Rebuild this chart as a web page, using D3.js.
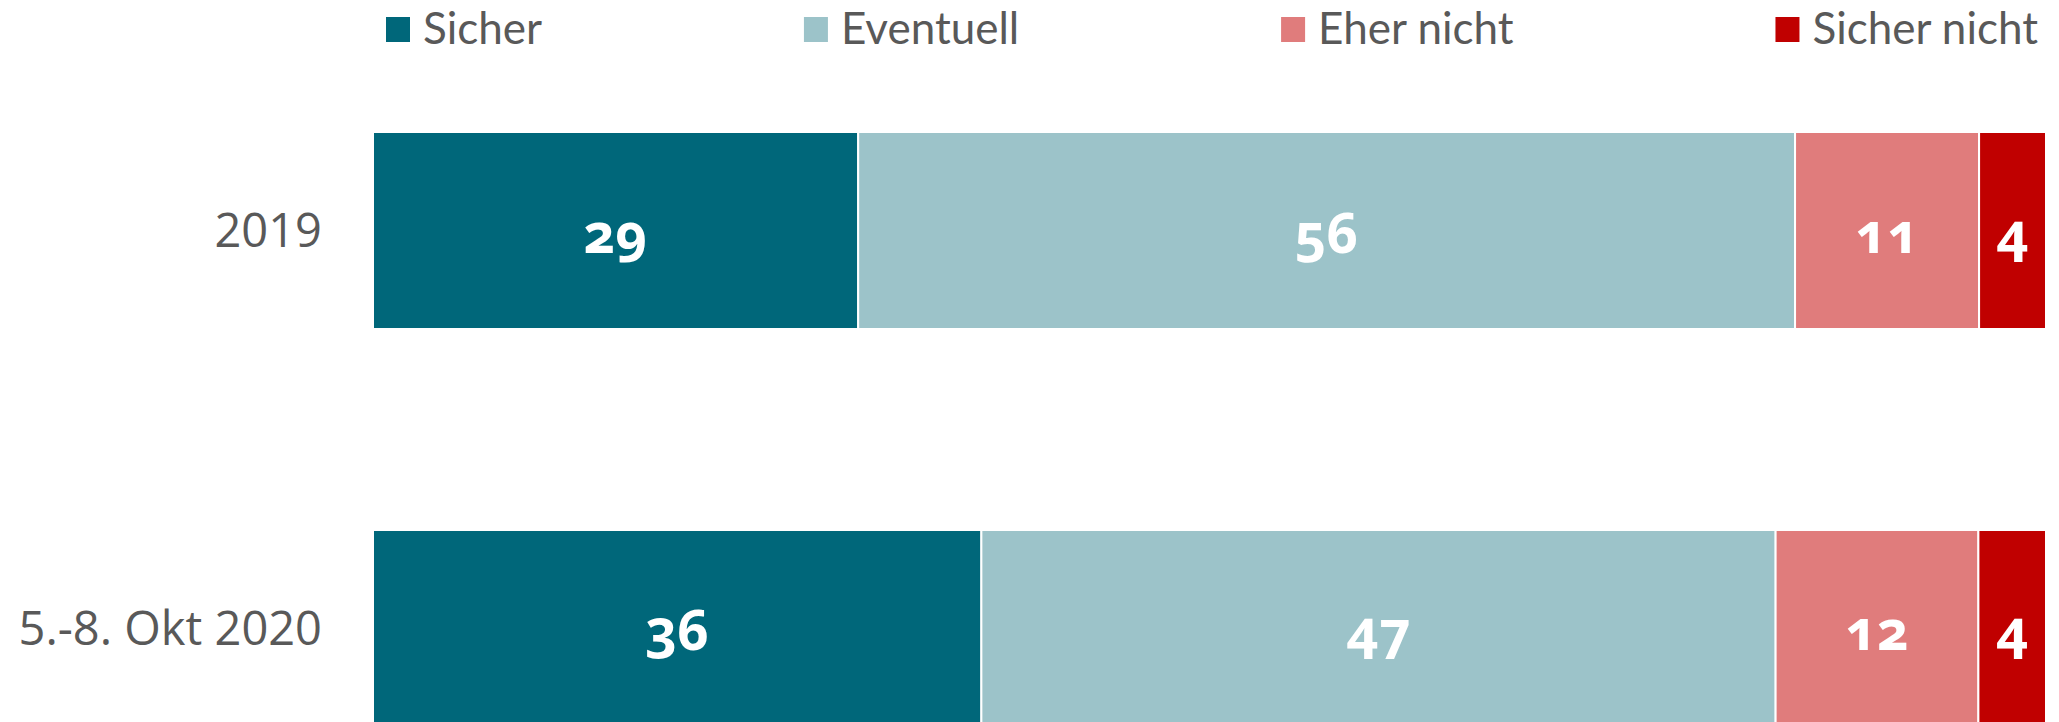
<!DOCTYPE html>
<html>
<head>
<meta charset="utf-8">
<script src="https://cdn.jsdelivr.net/npm/d3@7"></script>
<style>
  html, body { margin: 0; padding: 0; background: #ffffff; }
  svg { display: block; }
</style>
</head>
<body>
<svg id="chart" width="2059" height="722"></svg>
<script>
// ---- data ----
const categories = ["2019", "5.-8. Okt 2020"];
const seriesNames = ["Sicher", "Eventuell", "Eher nicht", "Sicher nicht"];
const seriesColors = ["#00677A", "#9CC3C9", "#E07C7C", "#C00000"];
const sicher = [29, 36];
const eventuell = [56, 47];
const eherNicht = [11, 12];
const sicherNicht = [4, 4];

const seriesValues = [sicher, eventuell, eherNicht, sicherNicht];

const rows = categories.map((c, i) => {
  const r = { category: c };
  seriesNames.forEach((s, j) => { r[s] = seriesValues[j][i]; });
  return r;
});

const svg = d3.select("#chart");

const x = d3.scaleLinear().domain([0, 1]).range([373, 2046]);
const y = d3.scaleBand().domain(categories).range([32.5, 826.5])
  .paddingInner(0.505).paddingOuter(0.25);

const stack = d3.stack().keys(seriesNames).offset(d3.stackOffsetExpand);
const stacked = stack(rows);

const color = d3.scaleOrdinal().domain(seriesNames).range(seriesColors);

const layers = svg.append("g").selectAll("g.layer")
  .data(stacked).join("g").attr("class", "layer")
  .attr("fill", d => color(d.key));

layers.selectAll("rect")
  .data(d => d.map(p => ({ p, key: d.key })))
  .join("rect")
  .attr("x", d => x(d.p[0]))
  .attr("y", d => y(d.p.data.category))
  .attr("width", d => x(d.p[1]) - x(d.p[0]))
  .attr("height", y.bandwidth())
  .attr("stroke", "#ffffff")
  .attr("stroke-width", 2);

// value labels
layers.selectAll("text")
  .data(d => d.map(p => ({ p, key: d.key })))
  .join("text")
  .attr("x", d => (x(d.p[0]) + x(d.p[1])) / 2)
  .attr("y", d => y(d.p.data.category) + y.bandwidth() / 2 + 22)
  .attr("text-anchor", "middle")
  .attr("fill", "#ffffff")
  .style("font-family", "'Noto Sans', sans-serif")
  .style("font-weight", "700")
  .style("font-size", "55px")
  .style("font-feature-settings", "'onum' 1")
  .text(d => d.p.data[d.key]);

// category axis labels
const yAxis = d3.axisLeft(y).tickSize(0).tickPadding(0);
const axG = svg.append("g").attr("transform", "translate(322,0)").call(yAxis);
axG.select(".domain").remove();
axG.selectAll("text")
  .attr("fill", "#595959")
  .attr("dy", "0.35em")
  .style("font-family", "'Open Sans', sans-serif")
  .style("font-size", "47px");

// legend
const lg = svg.append("g").attr("class", "legend");
const items = lg.selectAll("g").data(seriesNames).join("g");
items.append("rect")
  .attr("x", 0).attr("y", 17).attr("width", 24).attr("height", 25)
  .attr("fill", d => color(d));
items.append("text")
  .attr("x", 37).attr("y", 44)
  .attr("fill", "#595959")
  .style("font-family", "Lato, sans-serif")
  .style("font-size", "44px")
  .text(d => d);

const widths = [];
items.each(function () {
  widths.push(37 + d3.select(this).select("text").node().getComputedTextLength());
});
const legStart = 386, legEnd = 2038;
const gap = (legEnd - legStart - d3.sum(widths)) / (widths.length - 1);
let cx = legStart;
items.each(function (d, i) {
  d3.select(this).attr("transform", `translate(${cx},0)`);
  cx += widths[i] + gap;
});
</script>
</body>
</html>
